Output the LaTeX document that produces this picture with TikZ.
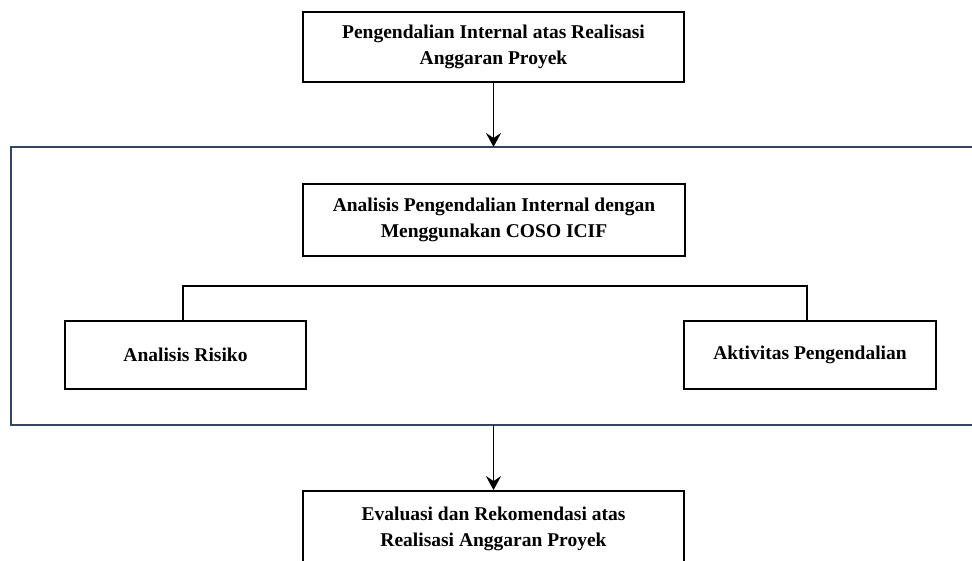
\documentclass[tikz,border=0pt]{standalone}
\usepackage{fontspec}
\setmainfont{Liberation Serif}
\usetikzlibrary{arrows.meta}
\definecolor{framecol}{HTML}{2F4862}
\tikzset{
  boxnode/.style={draw=black, line width=1.8pt, rectangle, align=center, inner sep=0pt,
    font=\fontsize{19.5}{26}\selectfont\bfseries},
  conn/.style={draw=black, line width=1.8pt},
  arrowline/.style={draw=black, line width=1.8pt, -{Stealth[length=14pt,width=15pt,inset=5pt]}},
  framebox/.style={draw=framecol, line width=1.3pt}
}
\begin{document}
\begin{tikzpicture}[x=1pt,y=-1pt]
\useasboundingbox (0,0) rectangle (972,560);
\clip (0,0) rectangle (972,560);
\draw[framebox] (11,147) rectangle (990,425);
\coordinate (ftop) at (494,147);
\coordinate (fbot) at (494,425);
\node[boxnode, minimum width=381pt, minimum height=70pt] (T) at (493.5,47)
  {Pengendalian Internal atas Realisasi\\Anggaran Proyek};
\node[boxnode, minimum width=382pt, minimum height=72pt] (M) at (494,220)
  {Analisis Pengendalian Internal dengan\\Menggunakan COSO ICIF};
\node[boxnode, minimum width=241pt, minimum height=68pt] (L) at (185.5,355)
  {Analisis Risiko};
\node[boxnode, minimum width=252pt, minimum height=68pt] (R) at (810,355)
  {Aktivitas Pengendalian};
\node[boxnode, minimum width=381pt, minimum height=76pt] (B) at (493.5,529)
  {Evaluasi dan Rekomendasi atas\\Realisasi Anggaran Proyek};
\draw[conn] ([xshift=-2.5pt]L.north) -- ++(0,-34) -| ([xshift=-3pt]R.north);
\draw[arrowline] (T.south) -- (T.south |- ftop);
\draw[arrowline] (B.north |- fbot) -- (B.north);
\end{tikzpicture}
\end{document}
